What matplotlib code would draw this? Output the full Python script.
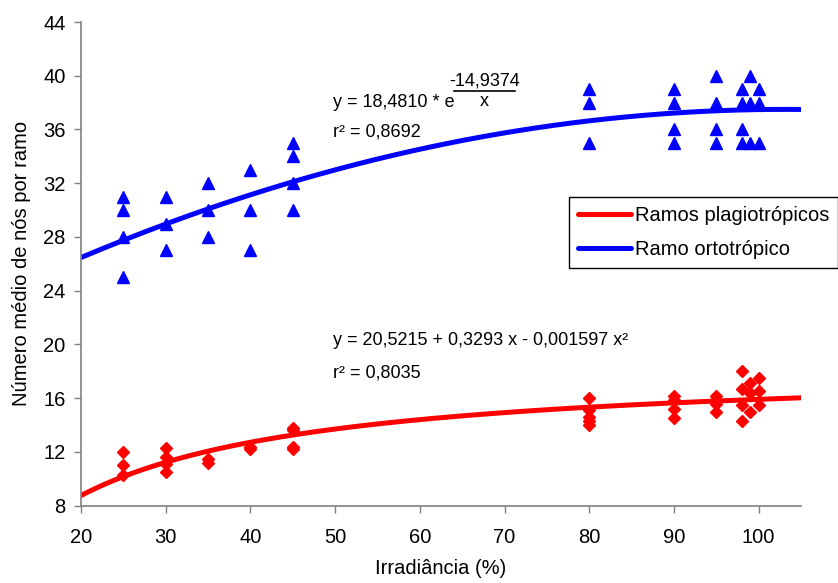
import numpy as np
import matplotlib.pyplot as plt
from matplotlib.lines import Line2D

plt.rcParams['font.family'] = ['Liberation Sans', 'DejaVu Sans']

# ramo ortotropico (triangulos azuis)
x_orto = [25, 25, 25, 25, 30, 30, 30, 35, 35, 35, 40, 40, 40, 45, 45, 45, 45,
          80, 80, 80, 90, 90, 90, 90, 95, 95, 95, 95, 98, 98, 98, 98,
          99, 99, 99, 100, 100, 100]
y_orto = [31, 30, 28, 25, 31, 29, 27, 32, 30, 28, 33, 30, 27, 35, 34, 32, 30,
          39, 38, 35, 39, 38, 36, 35, 40, 38, 36, 35, 39, 38, 36, 35,
          40, 38, 35, 39, 38, 35]

# ramos plagiotropicos (losangos vermelhos)
x_plag = [25, 25, 25, 30, 30, 30, 30, 35, 35, 40, 40, 45, 45, 45, 45,
          80, 80, 80, 80, 80, 90, 90, 90, 90, 95, 95, 95, 95,
          98, 98, 98, 98, 99, 99, 99, 100, 100, 100]
y_plag = [12, 11, 10.3, 12.3, 11.6, 11.1, 10.5, 11.5, 11.2, 12.4, 12.2,
          13.8, 13.6, 12.4, 12.2,
          16, 15.1, 14.6, 14.3, 14.0, 16.2, 15.9, 15.2, 14.5,
          16.2, 15.9, 15.6, 15.0, 18, 16.7, 15.5, 14.3, 17.1, 16.4, 15.0,
          17.5, 16.5, 15.5]

# coeficientes das linhas de tendencia
quad = (20.5215, 0.3293, -0.001597)
expo = (18.4810, -14.9374)

xs = np.linspace(20, 105, 200)
y_quad = quad[0] + quad[1] * xs + quad[2] * xs ** 2
y_expo = expo[0] * np.exp(expo[1] / xs)

fig = plt.figure(figsize=(8.38, 5.83), dpi=100)
ax = fig.add_axes([81 / 838, 1 - 505.7 / 583, 720 / 838, 483.7 / 583])

ax.plot(xs, y_quad, color='#0000FF', lw=3.6, solid_capstyle='round', zorder=2)
ax.plot(xs, y_expo, color='#FF0000', lw=3.6, solid_capstyle='round', zorder=2)
ax.plot(x_orto, y_orto, '^', color='#0000FF', ms=8.5, mec='#0000FF', zorder=3)
ax.plot(x_plag, y_plag, 'D', color='#FF0000', ms=6, mec='#FF0000', zorder=3)

ax.set_xlim(20, 105)
ax.set_ylim(8, 44)
ax.set_xticks(range(20, 101, 10))
ax.set_yticks(range(8, 45, 4))
ax.tick_params(labelsize=14.5, color='#808080', length=5, width=1, direction='out')
ax.tick_params(axis='x', pad=11)
ax.tick_params(axis='y', pad=6)
for s in ['top', 'right']:
    ax.spines[s].set_visible(False)
for s in ['left', 'bottom']:
    ax.spines[s].set_color('#808080')
    ax.spines[s].set_linewidth(1.2)

ax.set_xlabel('Irradiância (%)', fontsize=14.5, labelpad=9)
ax.set_ylabel('Número médio de nós por ramo', fontsize=14.5, labelpad=9)

# equacoes
ax.text(49.75, 38.0, 'y = 18,4810 * e', fontsize=13, va='center', ha='left')
ax.text(67.6, 39.62, '-14,9374', fontsize=13, va='center', ha='center')
ax.plot([64.04, 71.24], [38.88, 38.88], color='black', lw=1.2)
ax.text(67.6, 38.1, 'x', fontsize=13, va='center', ha='center')
ax.text(49.75, 35.83, 'r² = 0,8692', fontsize=13, va='center', ha='left')

ax.text(49.75, 20.33, 'y = 20,5215 + 0,3293 x - 0,001597 x²', fontsize=13,
        va='center', ha='left')
ax.text(49.75, 17.85, 'r² = 0,8035', fontsize=13, va='center', ha='left')

handles = [Line2D([], [], color='#FF0000', lw=3.6, solid_capstyle='round'),
           Line2D([], [], color='#0000FF', lw=3.6, solid_capstyle='round')]
leg = ax.legend(handles, ['Ramos plagiotrópicos', 'Ramo ortotrópico'],
                loc='upper left', bbox_to_anchor=(0.678, 0.638), borderaxespad=0,
                fontsize=14.5, fancybox=False, edgecolor='black', framealpha=1,
                handlelength=2.6, handletextpad=0.2, labelspacing=0.75,
                borderpad=0.45)
leg.get_frame().set_linewidth(1.0)

fig.savefig('out.png', dpi=100)
